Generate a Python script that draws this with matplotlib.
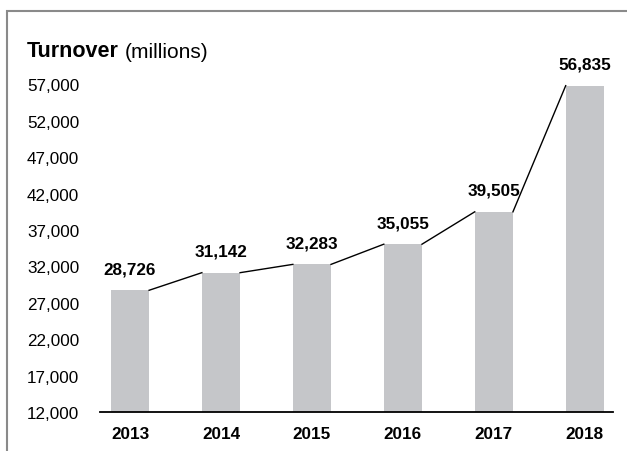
import matplotlib.pyplot as plt
from matplotlib.patches import Rectangle

plt.rcParams['font.family'] = ['Liberation Sans', 'DejaVu Sans']

years = ['2013', '2014', '2015', '2016', '2017', '2018']
turnover = [28726, 31142, 32283, 35055, 39505, 56835]
yticks = [12000, 17000, 22000, 27000, 32000, 37000, 42000, 47000, 52000, 57000]

bar_w = 0.42
x = list(range(len(years)))

fig = plt.figure(figsize=(6.27, 4.52), dpi=100)
ax = fig.add_axes([100/627, 1-413/452, 513/627, 353/452])

ax.bar(x, turnover, width=bar_w, color='#c5c6c9', zorder=2)

# connector from the right corner of each bar to the left corner of the next
for i in range(len(x) - 1):
    ax.plot([x[i] + bar_w/2, x[i+1] - bar_w/2], [turnover[i], turnover[i+1]],
            color='black', lw=1, zorder=3)

for xi, v in zip(x, turnover):
    ax.annotate(f'{v:,}', xy=(xi, v), xytext=(0, 10), textcoords='offset points',
                ha='center', va='bottom', fontsize=12.3, fontweight='bold',
                annotation_clip=False)

ax.set_xlim(-0.33, 5.31)
ax.set_ylim(12000, 60500)
ax.set_xticks(x)
ax.set_xticklabels(years, fontsize=12.3, fontweight='bold')
ax.set_yticks(yticks)
ax.set_yticklabels([f'{t:,}' for t in yticks], fontsize=12.3)
for lab in ax.get_yticklabels():
    lab.set_horizontalalignment('left')
ax.tick_params(axis='y', length=0, pad=52.6)
ax.tick_params(axis='x', length=0, pad=10)

for s in ['top', 'right', 'left']:
    ax.spines[s].set_visible(False)
ax.spines['bottom'].set_linewidth(1.3)
ax.spines['bottom'].set_zorder(4)

t1 = fig.text(27/627, 1-57/452, 'Turnover', fontsize=15.5, fontweight='bold',
              va='baseline', ha='left')
ax.annotate('(millions)', xy=(1, 0), xycoords=t1, xytext=(4, 0),
            textcoords='offset points', va='bottom', ha='left', fontsize=15)

# frame around the figure, open on the right and bottom
fig.add_artist(Rectangle((7/627, -0.1), 1.2, 1-12/452+0.1, transform=fig.transFigure,
                         fill=False, edgecolor='#8a8a8a', lw=1.5))

fig.savefig('out.png', dpi=100)
